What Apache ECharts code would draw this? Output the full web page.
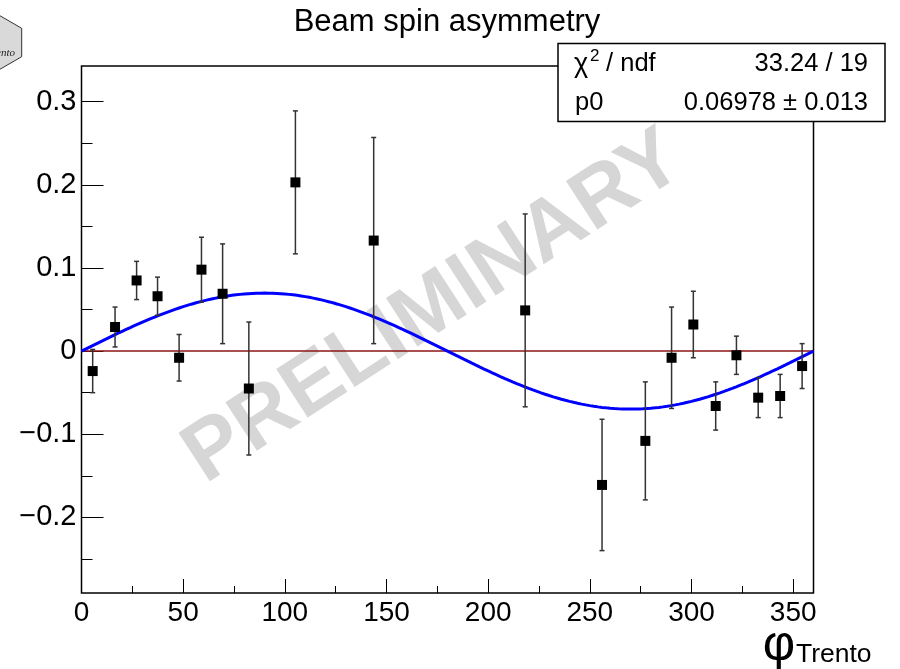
<!DOCTYPE html>
<html>
<head>
<meta charset="utf-8">
<script src="https://cdn.jsdelivr.net/npm/echarts@6/dist/echarts.min.js"></script>
<style>
  html, body { margin: 0; padding: 0; background: #fff; }
  #chart { width: 900px; height: 669px; }
</style>
</head>
<body>
<div id="chart"></div>
<script>
// Measured asymmetry per phi_Trento bin (degrees)
const phiTrento = [5.5, 16.5, 27.1, 37.4, 48.0, 59.0, 69.4, 82.3, 105.2, 143.7,
                   218.2, 256.0, 277.3, 290.2, 300.9, 311.9, 322.1, 332.8, 343.6, 354.4];
const asymmetry = [-0.024, 0.029, 0.085, 0.066, -0.008, 0.098, 0.069, -0.045, 0.203, 0.133,
                   0.049, -0.161, -0.108, -0.008, 0.032, -0.066, -0.005, -0.056, -0.054, -0.018];
const asymError = [0.026, 0.024, 0.023, 0.023, 0.028, 0.039, 0.060, 0.080, 0.086, 0.124,
                   0.116, 0.079, 0.071, 0.061, 0.040, 0.029, 0.023, 0.024, 0.026, 0.027];

// Fit result: A(phi) = p0 * sin(phi)
const fitP0 = 0.06978;
const fitP0Err = 0.013;
const fitChi2 = 33.24;
const fitNdf = 19;

// Axis ticks
const xMajorTicks = [0, 50, 100, 150, 200, 250, 300, 350];
const xMinorTicks = [25, 75, 125, 175, 225, 275, 325];
const yMajorTicks = [-0.2, -0.1, 0, 0.1, 0.2, 0.3];
const yMinorTicks = [-0.25, -0.15, -0.05, 0.05, 0.15, 0.25];

const FONT = '"Liberation Sans", Arial, Helvetica, sans-serif';

const fitCurve = [];
for (let phi = 0; phi <= 360; phi += 2) {
  fitCurve.push([phi, fitP0 * Math.sin(phi * Math.PI / 180)]);
}

const points = phiTrento.map((p, i) => [p, asymmetry[i], asymError[i]]);

const chart = echarts.init(document.getElementById('chart'), null, { renderer: 'canvas' });

const errStyle = { stroke: '#333333', lineWidth: 1.5 };

const option = {
  backgroundColor: '#ffffff',
  animation: false,
  grid: {
    left: 81.5, top: 66, right: 86.5, bottom: 76,
    show: true, borderColor: '#000', borderWidth: 1.5, backgroundColor: '#fff'
  },
  xAxis: [{
    type: 'value', min: 0, max: 360,
    axisLine: { show: false, onZero: false },
    splitLine: { show: false },
    axisTick: { inside: true, length: 14, customValues: xMajorTicks, lineStyle: { color: '#000', width: 1 } },
    axisLabel: { customValues: xMajorTicks, fontSize: 28, color: '#000', fontFamily: FONT, margin: 6 }
  }, {
    type: 'value', min: 0, max: 360, position: 'bottom',
    axisLine: { show: false, onZero: false },
    splitLine: { show: false },
    axisTick: { inside: true, length: 7, customValues: xMinorTicks, lineStyle: { color: '#000', width: 1 } },
    axisLabel: { show: false }
  }],
  yAxis: [{
    type: 'value', min: -0.291, max: 0.343,
    axisLine: { show: false, onZero: false },
    splitLine: { show: false },
    axisTick: { inside: true, length: 22, customValues: yMajorTicks, lineStyle: { color: '#000', width: 1 } },
    axisLabel: {
      customValues: yMajorTicks, fontSize: 29, color: '#000', fontFamily: FONT, margin: 5,
      formatter: v => Math.abs(v) < 1e-9 ? '0' : (v < 0 ? '\u2212' : '') + Math.abs(v).toFixed(1)
    }
  }, {
    type: 'value', min: -0.291, max: 0.343, position: 'left', offset: 0,
    axisLine: { show: false, onZero: false },
    splitLine: { show: false },
    axisTick: { inside: true, length: 11, customValues: yMinorTicks, lineStyle: { color: '#000', width: 1 } },
    axisLabel: { show: false }
  }],
  series: [{
    name: 'zero',
    type: 'line',
    data: [[0, 0], [360, 0]],
    symbol: 'none',
    lineStyle: { color: '#8c1414', width: 1.5 },
    z: 2
  }, {
    name: 'fit',
    type: 'line',
    data: fitCurve,
    symbol: 'none',
    lineStyle: { color: '#0000ff', width: 3 },
    z: 3
  }, {
    name: 'errors',
    type: 'custom',
    data: points,
    encode: { x: 0, y: 1 },
    renderItem: (params, api) => {
      const x = api.value(0), y = api.value(1), e = api.value(2);
      const lo = api.coord([x, y - e]);
      const hi = api.coord([x, y + e]);
      const c = 2.5;
      return {
        type: 'group',
        children: [
          { type: 'line', shape: { x1: lo[0], y1: lo[1], x2: hi[0], y2: hi[1] }, style: errStyle },
          { type: 'line', shape: { x1: lo[0] - c, y1: lo[1], x2: lo[0] + c, y2: lo[1] }, style: errStyle },
          { type: 'line', shape: { x1: hi[0] - c, y1: hi[1], x2: hi[0] + c, y2: hi[1] }, style: errStyle }
        ]
      };
    },
    z: 4
  }, {
    name: 'data',
    type: 'scatter',
    data: points.map(p => [p[0], p[1]]),
    symbol: 'rect',
    symbolSize: 10,
    itemStyle: { color: '#000', opacity: 1 },
    z: 5
  }],
  graphic: [
    // watermark
    {
      type: 'text', x: 434, y: 308, rotation: 33 * Math.PI / 180, z: 1,
      style: {
        text: 'PRELIMINARY', fill: '#d6d6d6', font: 'bold 84px ' + FONT,
        textAlign: 'center', textVerticalAlign: 'middle'
      }
    },
    // title
    {
      type: 'text', x: 447, y: 22, z: 10,
      style: {
        text: 'Beam spin asymmetry', fill: '#000', font: '31px ' + FONT,
        textAlign: 'center', textVerticalAlign: 'middle'
      }
    },
    // group logo
    {
      type: 'polygon', z: 10,
      shape: { points: [[-2.9, 14.1], [21.7, 28.3], [21.7, 56.7], [-2.9, 70.9], [-27.5, 56.7], [-27.5, 28.3]] },
      style: { fill: '#d9d9d9', stroke: '#333', lineWidth: 1 }
    },
    {
      type: 'text', x: 15, y: 53, z: 11,
      style: {
        text: 'Trento', fill: '#222', font: 'italic 11px "Liberation Serif", serif',
        textAlign: 'right', textVerticalAlign: 'middle'
      }
    },
    // fit statistics box
    {
      type: 'rect', z: 20,
      shape: { x: 558, y: 43.5, width: 327, height: 78 },
      style: { fill: '#fff', stroke: '#000', lineWidth: 1.5 }
    },
    {
      type: 'text', x: 574, y: 65, z: 21,
      style: { text: '\u03c7', fill: '#000', font: '27px ' + FONT, textVerticalAlign: 'middle' }
    },
    {
      type: 'text', x: 590, y: 56, z: 21,
      style: { text: '2', fill: '#000', font: '17px ' + FONT, textVerticalAlign: 'middle' }
    },
    {
      type: 'text', x: 599, y: 64, z: 21,
      style: { text: ' / ndf', fill: '#000', font: '25.5px ' + FONT, textVerticalAlign: 'middle' }
    },
    {
      type: 'text', x: 868, y: 64, z: 21,
      style: {
        text: fitChi2.toFixed(2) + ' / ' + fitNdf, fill: '#000', font: '25.5px ' + FONT,
        textAlign: 'right', textVerticalAlign: 'middle'
      }
    },
    {
      type: 'text', x: 575, y: 103, z: 21,
      style: { text: 'p0', fill: '#000', font: '25.5px ' + FONT, textVerticalAlign: 'middle' }
    },
    {
      type: 'text', x: 868, y: 103, z: 21,
      style: {
        text: fitP0.toString() + ' \u00b1 ' + fitP0Err.toFixed(3), fill: '#000', font: '25.5px ' + FONT,
        textAlign: 'right', textVerticalAlign: 'middle'
      }
    },
    // x axis title
    {
      type: 'text', x: 779, y: 646, z: 10,
      style: { text: '\u03c6', fill: '#000', font: '50px ' + FONT, textAlign: 'center', textVerticalAlign: 'middle' }
    },
    {
      type: 'text', x: 796, y: 655, z: 10,
      style: { text: 'Trento', fill: '#000', font: '26.5px ' + FONT, textVerticalAlign: 'middle' }
    }
  ]
};

chart.setOption(option);
</script>
</body>
</html>
